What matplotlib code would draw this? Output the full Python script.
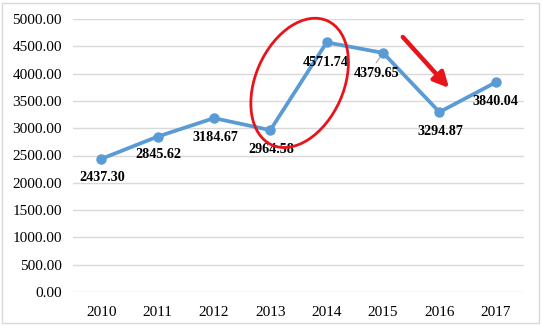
import matplotlib.pyplot as plt
import matplotlib.patches as mpatches
import matplotlib.transforms as mtrans
import numpy as np

years = [2010, 2011, 2012, 2013, 2014, 2015, 2016, 2017]
values = [2437.30, 2845.62, 3184.67, 2964.58, 4571.74, 4379.65, 3294.87, 3840.04]
yticks = np.arange(0, 5001, 500)

plt.rcParams['font.family'] = ['Liberation Serif', 'DejaVu Serif']

fig = plt.figure(figsize=(5.42, 3.26), dpi=100)
ax = fig.add_axes([73 / 542, 1 - 292 / 326, 451 / 542, 273 / 326])

ax.plot(years, values, color='#5B9BD5', lw=2.7, marker='o', ms=6.5,
        solid_capstyle='round', zorder=3)

ax.set_xlim(2009.5, 2017.5)
ax.set_ylim(0, 5000)
ax.set_yticks(yticks)
ax.set_yticklabels(['%.2f' % v for v in yticks], fontsize=11)
ax.set_xticks(years)
ax.set_xticklabels([str(y) for y in years], fontsize=11)
ax.tick_params(length=0)
ax.tick_params(axis='y', pad=8)
ax.tick_params(axis='x', pad=10)
ax.yaxis.grid(True, color='#D9D9D9', lw=1)
ax.set_axisbelow(True)
for s in ax.spines.values():
    s.set_visible(False)

# data labels (offsets in pixels)
offsets = [(1, -19), (1, -18), (1, -19), (1, -19), (-1, -20), (-7, -21), (1, -19), (0, -19)]
for x, y, (dx, dy) in zip(years, values, offsets):
    ax.annotate('%.2f' % y, xy=(x, y), xytext=(dx, dy), textcoords='offset pixels',
                ha='center', va='center', fontsize=10.2, fontweight='bold', zorder=4)
# leader line for 2015
ax.annotate('', xy=(2015, 4379.65), xytext=(-7, -10), textcoords='offset pixels',
            arrowprops=dict(arrowstyle='-', color='#A6A6A6', lw=0.8,
                            shrinkA=0, shrinkB=4))

# red ellipse, sized in pixels, centred at a data point
tr = (mtrans.Affine2D().scale(1 / 100) + fig.dpi_scale_trans
      + mtrans.ScaledTranslation(2013.52, 3830, ax.transData))
ell = mpatches.Ellipse((0, 0), 136, 88, angle=66, fill=False, ec='#E8141B',
                       lw=2, transform=tr, zorder=5, clip_on=False)
ax.add_artist(ell)

# red arrow
ax.annotate('', xy=(2016.17, 3736), xytext=(2015.35, 4670),
            arrowprops=dict(arrowstyle='-|>,head_length=0.9,head_width=0.45',
                            color='#E8141B', lw=3.2, shrinkA=0, shrinkB=0))

# light frame around the chart
fig.patches.append(mpatches.Rectangle((2 / 542, 3 / 326), 537 / 542, 320 / 326,
                                      transform=fig.transFigure, fill=False,
                                      ec='#D9D9D9', lw=1))

fig.savefig('out.png', dpi=100)
